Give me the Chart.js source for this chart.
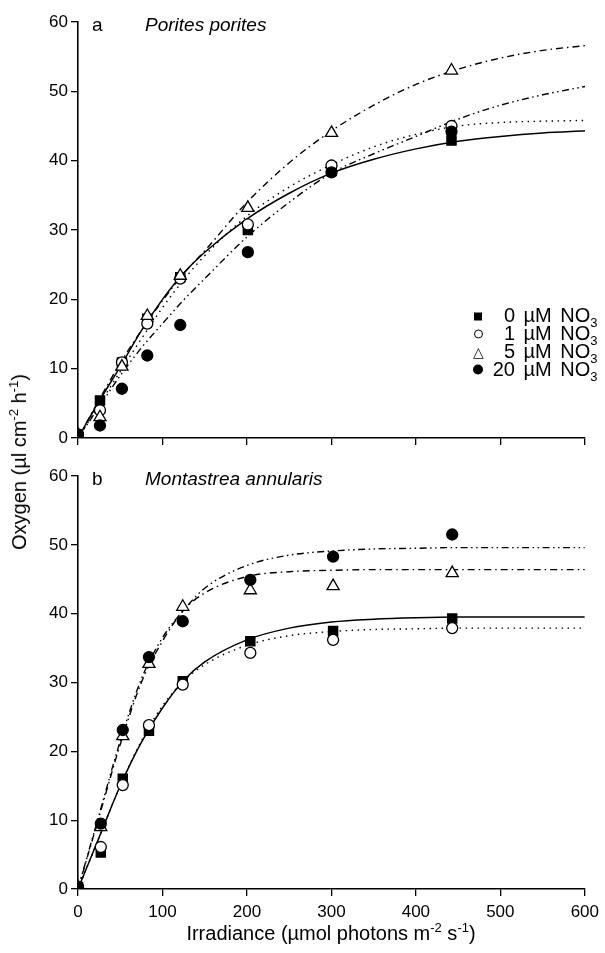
<!DOCTYPE html>
<html>
<head>
<meta charset="utf-8">
<script src="https://cdn.jsdelivr.net/npm/chart.js@4.4.1/dist/chart.umd.min.js"></script>
<style>
  html, body { margin: 0; padding: 0; background: #fff; overflow: hidden; }
  #fig { position: relative; width: 605px; height: 953px; overflow: hidden;
         font-family: "Liberation Sans", Arial, sans-serif; color: #000; }
  #fig canvas { position: absolute; left: 0; }
  .t { position: absolute; white-space: nowrap; line-height: 1; font-size: 19px; transform: translateY(-50%); }
  .it { font-style: italic; }
  sup, sub { font-size: 65%; line-height: 0; }
  .lg { position: absolute; white-space: nowrap; line-height: 1; font-size: 20px; word-spacing: 3px;
        transform: translateY(-50%); }
  .num { display: inline-block; width: 27px; text-align: right; }
  .mk { display: inline-block; width: 20px; text-align: center; vertical-align: 1px; }
  .mk i { display: inline-block; box-sizing: border-box; }
  .sq { width: 8px; height: 8px; background: #000; }
  .oc { width: 9px; height: 9px; border: 1.3px solid #000; border-radius: 50%; }
  .fc { width: 10px; height: 10px; background: #000; border-radius: 50%; }
  .tr { font-style: normal; font-size: 14px; }
</style>
</head>
<body>
<div id="fig">
  <canvas id="panelA" width="605" height="460" style="top:0"></canvas>
  <canvas id="panelB" width="605" height="493" style="top:460px"></canvas>

  <div class="t" style="left:92px; top:24px">a</div>
  <div class="t it" style="left:145px; top:24px">Porites porites</div>
  <div class="t" style="left:92px; top:478px">b</div>
  <div class="t it" style="left:145px; top:478px">Montastrea annularis</div>

  <div class="lg" style="left:468px; top:314px"><span class="mk"><i class="sq"></i></span><span class="num">0</span> µM NO<sub>3</sub></div>
  <div class="lg" style="left:468px; top:332px"><span class="mk"><i class="oc"></i></span><span class="num">1</span> µM NO<sub>3</sub></div>
  <div class="lg" style="left:468px; top:350px"><span class="mk"><i class="tr">&#9651;</i></span><span class="num">5</span> µM NO<sub>3</sub></div>
  <div class="lg" style="left:468px; top:368px"><span class="mk"><i class="fc"></i></span><span class="num">20</span> µM NO<sub>3</sub></div>

  <div class="t" style="left:331px; top:933px; font-size:20px; transform:translate(-50%,-50%)">Irradiance (µmol photons m<sup>-2</sup> s<sup>-1</sup>)</div>
  <div class="t" style="left:19px; top:462px; font-size:20px; transform:translate(-50%,-50%) rotate(-90deg)">Oxygen (µl cm<sup>-2</sup> h<sup>-1</sup>)</div>
</div>

<script>
// irradiance levels (µmol photons m-2 s-1)
const irrA = [0, 26, 52, 82, 121, 201, 300, 442];
const irrB = [0, 27, 53, 84, 124, 204, 302, 443];

// a  Porites porites  -- measured O2 (µl cm-2 h-1)
const porites0  = [0.5, 5.4, 10.9, 17.2, 23.2, 30.0, 38.5, 42.9];
const porites1  = [0.5, 4.0, 10.9, 16.5, 23.0, 30.8, 39.3, 45.0];
const porites5  = [0.5, 3.0, 10.3, 17.6, 23.4, 33.2, 44.0, 53.0];
const porites20 = [0.5, 1.8, 7.1, 11.9, 16.3, 26.8, 38.3, 44.2];

// b  Montastrea annularis
const montas0  = [0.3, 5.3, 16.0, 23.0, 30.2, 36.0, 37.5, 39.3];
const montas1  = [0.3, 6.1, 15.1, 23.8, 29.7, 34.3, 36.2, 37.9];
const montas5  = [0.3, 9.0, 22.2, 32.7, 41.0, 43.4, 44.0, 45.9];
const montas20 = [0.3, 9.5, 23.1, 33.7, 38.9, 44.9, 48.3, 51.5];

// fitted curves
const curveX = [0, 25, 50, 75, 100, 125, 150, 200, 250, 300, 350, 400, 450, 500, 550, 600];
const fitA0  = [0, 5.3, 10.3, 15.5, 20.0, 23.8, 26.8, 31.6, 35.3, 38.2, 40.2, 41.7, 42.8, 43.5, 44.0, 44.3];
const fitA1  = [0, 4.8, 9.6, 14.3, 18.8, 22.8, 26.3, 32.0, 36.2, 39.4, 42.0, 43.8, 45.0, 45.5, 45.7, 45.8];
const fitA5  = [0, 5.5, 10.8, 15.5, 19.8, 23.7, 27.0, 34.0, 39.7, 44.3, 48.0, 51.0, 53.2, 54.8, 55.9, 56.6];
const fitA20 = [0, 4.5, 9.0, 13.0, 16.5, 19.9, 23.0, 29.0, 34.0, 38.2, 41.0, 43.5, 46.0, 48.0, 49.5, 50.7];

const fitB0  = [0, 7.5, 15.0, 21.3, 26.3, 30.3, 33.0, 36.2, 37.9, 38.8, 39.2, 39.4, 39.5, 39.5, 39.5, 39.5];
const fitB1  = [0, 7.5, 15.0, 21.5, 26.6, 30.2, 32.6, 35.4, 36.8, 37.4, 37.7, 37.8, 37.9, 37.9, 37.9, 37.9];
const fitB5  = [0, 10.5, 21.0, 30.0, 36.0, 40.5, 43.0, 45.4, 46.1, 46.3, 46.4, 46.4, 46.4, 46.4, 46.4, 46.4];
const fitB20 = [0, 10.8, 21.5, 30.5, 36.5, 40.5, 43.7, 47.0, 48.5, 49.1, 49.4, 49.5, 49.6, 49.6, 49.6, 49.6];

const yTicks = [0, 10, 20, 30, 40, 50, 60];
const xTicks = [0, 100, 200, 300, 400, 500, 600];

const INK = "#000";
const FONT = { family: "'Liberation Sans', Arial, sans-serif", size: 17 };

// line styles per treatment
const dashes = { n0: [], n1: [1.5, 4.5], n5: [7, 4, 1.5, 4], n20: [7, 3.5, 1.5, 3.5, 1.5, 3.5] };
const marks = {
  n0:  { pointStyle: "rect",     radius: 6.5, fill: INK },
  n1:  { pointStyle: "circle",   radius: 5.5, fill: "#fff" },
  n5:  { pointStyle: "triangle", radius: 7,   fill: "#fff" },
  n20: { pointStyle: "circle",   radius: 5.5, fill: INK }
};

function toXY(xs, ys) {
  return xs.map((x, i) => ({ x: x, y: ys[i] }));
}

function curveSet(xs, ys, key) {
  return {
    type: "line",
    data: toXY(xs, ys),
    borderColor: INK,
    borderWidth: key === "n0" ? 1.5 : 1.4,
    borderDash: dashes[key],
    cubicInterpolationMode: "monotone",
    pointRadius: 0,
    fill: false,
    order: 2
  };
}

function pointSet(xs, ys, key) {
  const m = marks[key];
  return {
    type: "scatter",
    data: toXY(xs, ys),
    showLine: false,
    pointStyle: m.pointStyle,
    pointRadius: m.radius,
    pointBackgroundColor: m.fill,
    pointBorderColor: INK,
    pointBorderWidth: 1.3,
    order: 1
  };
}

function makePanel(id, irr, obs, fits, opt) {
  const keys = ["n0", "n1", "n5", "n20"];
  const datasets = [];
  keys.forEach((k, i) => datasets.push(curveSet(curveX, fits[i], k)));
  // draw order: filled circles under, squares on top
  [3, 2, 1, 0].forEach(i => datasets.push(pointSet(irr, obs[i], keys[i])));

  const axisGrid = { drawOnChartArea: false, drawTicks: true, tickLength: 7, color: INK, lineWidth: 1.3 };

  return new Chart(document.getElementById(id), {
    type: "scatter",
    data: { datasets: datasets },
    options: {
      responsive: false,
      animation: false,
      events: [],
      layout: { padding: { top: opt.padTop, right: 20, left: 0, bottom: 0 } },
      plugins: { legend: { display: false }, tooltip: { enabled: false } },
      scales: {
        x: {
          type: "linear",
          min: 0, max: 600,
          afterBuildTicks: (s) => { s.ticks = xTicks.map(v => ({ value: v })); },
          ticks: {
            color: INK, font: FONT, padding: 6, maxRotation: 0,
            callback: (v) => opt.showX ? v : ""
          },
          grid: axisGrid,
          border: { display: true, color: INK, width: 1.6 },
          afterFit: (s) => { s.height = opt.xHeight; }
        },
        y: {
          type: "linear",
          min: 0, max: 60,
          afterBuildTicks: (s) => { s.ticks = yTicks.map(v => ({ value: v })); },
          ticks: { color: INK, font: FONT, padding: 3 },
          grid: axisGrid,
          border: { display: true, color: INK, width: 1.6 },
          afterFit: (s) => { s.width = 78; }
        }
      }
    }
  });
}

makePanel("panelA", irrA,
  [porites0, porites1, porites5, porites20],
  [fitA0, fitA1, fitA5, fitA20],
  { padTop: 22, xHeight: 22, showX: false });

makePanel("panelB", irrB,
  [montas0, montas1, montas5, montas20],
  [fitB0, fitB1, fitB5, fitB20],
  { padTop: 16, xHeight: 64, showX: true });
</script>
</body>
</html>
